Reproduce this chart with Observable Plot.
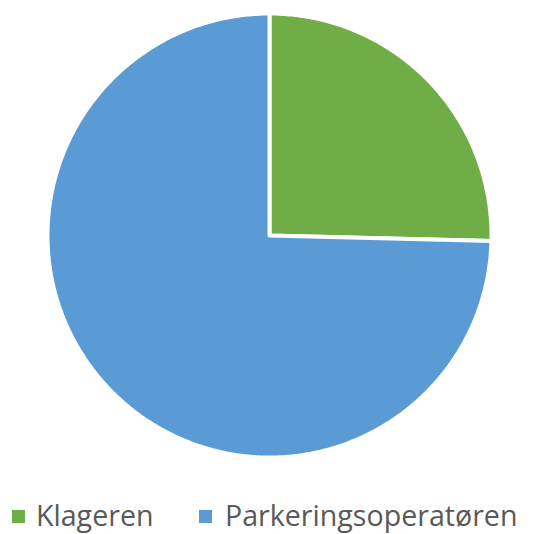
<!DOCTYPE html>
<html>
<head>
<meta charset="utf-8">
<script src="https://cdn.jsdelivr.net/npm/d3@7"></script>
<script src="https://cdn.jsdelivr.net/npm/@observablehq/plot@0.6"></script>
<style>
  html, body { margin: 0; padding: 0; background: #fff; }
  #wrap { position: relative; width: 545px; height: 534px; overflow: hidden; }
  #chart { position: absolute; left: 0; top: 0; }
  .leg { position: absolute; top: 498px; font-family: "Open Sans", sans-serif; font-size: 28.6px; color: #595959; line-height: 34px; white-space: nowrap; }
  .sw { position: absolute; width: 13px; height: 13px; top: 510px; }
</style>
</head>
<body>
<div id="wrap">
  <div id="chart"></div>
</div>
<script>
const categories = ["Klageren", "Parkeringsoperatøren"];
const values = [25.4, 74.6];
const colors = ["#70AD47", "#5B9BD5"];

const pie = d3.pie().sort(null).value(d => d.value);
const arcs = pie(categories.map((c, i) => ({category: c, value: values[i]})));

// polygon points for each slice, derived from pie angles
const pts = [];
arcs.forEach(a => {
  const n = Math.max(2, Math.ceil((a.endAngle - a.startAngle) / 0.01));
  pts.push({category: a.data.category, x: 0, y: 0});
  for (let k = 0; k <= n; k++) {
    const t = a.startAngle + (a.endAngle - a.startAngle) * k / n;
    pts.push({category: a.data.category, x: Math.sin(t), y: Math.cos(t)});
  }
  pts.push({category: a.data.category, x: 0, y: 0});
});

const chart = Plot.plot({
  width: 545,
  height: 470,
  marginLeft: 47,
  marginRight: 54,
  marginTop: 13,
  marginBottom: 13,
  x: {domain: [-1, 1], axis: null},
  y: {domain: [-1, 1], axis: null},
  color: {domain: categories, range: colors},
  marks: [
    Plot.line(pts, {x: "x", y: "y", z: "category", fill: "category", stroke: "white", strokeWidth: 4, strokeLinejoin: "miter", curve: "linear"})
  ]
});
document.getElementById("chart").appendChild(chart);

// legend
const wrap = document.getElementById("wrap");
const legPos = [[12, 36], [199, 225]];
categories.forEach((c, i) => {
  const sw = document.createElement("div");
  sw.className = "sw";
  sw.style.left = legPos[i][0] + "px";
  sw.style.background = colors[i];
  wrap.appendChild(sw);
  const t = document.createElement("div");
  t.className = "leg";
  t.style.left = legPos[i][1] + "px";
  t.textContent = c;
  wrap.appendChild(t);
});
</script>
</body>
</html>
